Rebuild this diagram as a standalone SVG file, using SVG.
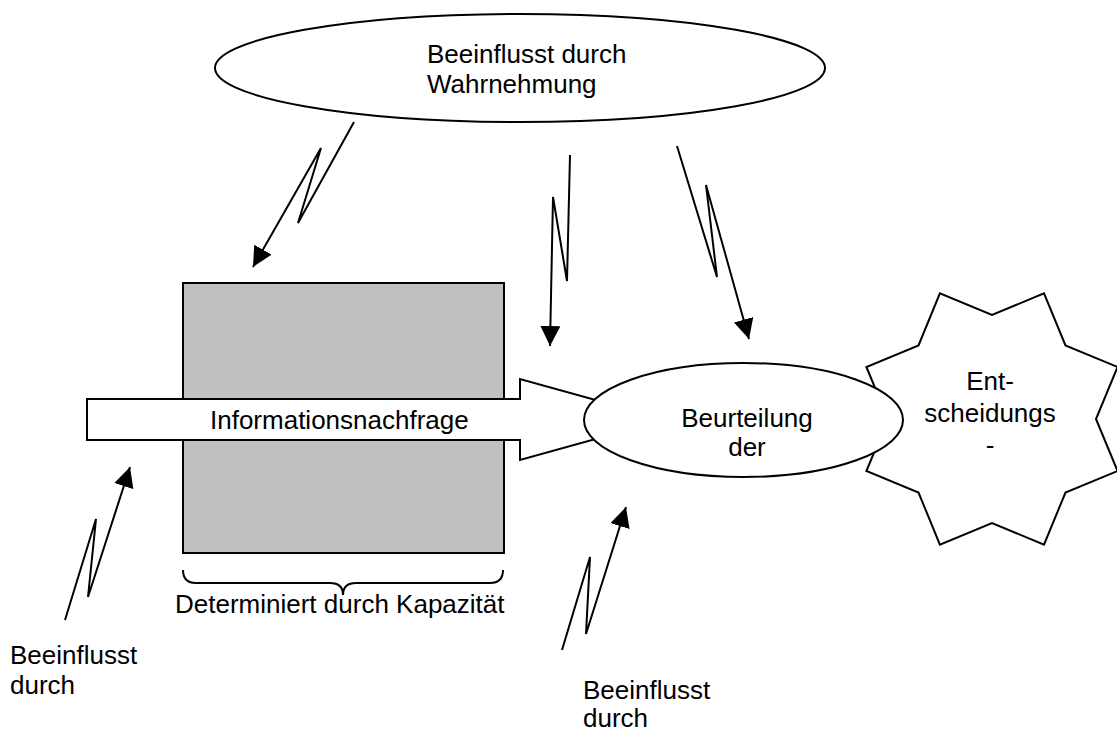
<svg xmlns="http://www.w3.org/2000/svg" width="1117" height="733" viewBox="0 0 1117 733">
  <style>
    .ln { fill: none; stroke: #000; stroke-width: 2; stroke-linejoin: miter; }
    .shape { stroke: #000; stroke-width: 2; }
    .txt { font-family: "Liberation Sans", Arial, sans-serif; font-size: 26px; fill: #000; }
    .mid { text-anchor: middle; }
  </style>
  <defs>
    <marker id="head" markerUnits="userSpaceOnUse" markerWidth="22" markerHeight="22" refX="20" refY="10" orient="auto">
      <path d="M0,0 L20,10 L0,20 z" fill="#000"/>
    </marker>
  </defs>

  <rect width="1117" height="733" fill="#fff"/>

  <!-- capacity block with brace -->
  <g id="capacity">
    <rect x="183" y="283" width="321" height="270" fill="#c0c0c0" class="shape"/>
    <path class="ln" d="M183,570 Q183,583 196,583 L330,583 Q343,583 343,595 Q343,583 356,583 L490,583 Q503,583 503,570"/>
    <text class="txt" x="175" y="613">Determiniert durch Kapazität</text>
  </g>

  <!-- information demand block arrow -->
  <g id="demand">
    <polygon points="87,399 520,399 520,379 666,419.5 520,460 520,440 87,440" fill="#fff" class="shape"/>
    <text class="txt" x="210" y="429">Informationsnachfrage</text>
  </g>

  <!-- decision star -->
  <g id="decision">
    <polygon fill="#fff" class="shape" points="1096,419 1117.6,471 1065.5,492.5 1044,544.6 992,523 939.9,544.6 918.5,492.5 866.4,471 888,419 866.4,367 918.5,345.5 939.9,293.4 992,315 1044,293.4 1065.5,345.5 1117.6,367"/>
    <text class="txt mid" x="990" y="390">Ent-</text>
    <text class="txt mid" x="990" y="422">scheidungs</text>
    <text class="txt mid" x="990" y="454">-</text>
  </g>

  <!-- assessment ellipse -->
  <g id="assessment">
    <ellipse cx="743.5" cy="420" rx="159.5" ry="57" fill="#fff" class="shape"/>
    <text class="txt mid" x="747" y="427">Beurteilung</text>
    <text class="txt mid" x="747" y="456">der</text>
  </g>

  <!-- perception ellipse -->
  <g id="perception">
    <ellipse cx="520" cy="68" rx="305" ry="54" fill="#fff" class="shape"/>
    <text class="txt" x="427" y="63">Beeinflusst durch</text>
    <text class="txt" x="427" y="93">Wahrnehmung</text>
  </g>

  <!-- free labels -->
  <g id="label-left">
    <text class="txt" x="10" y="664">Beeinflusst</text>
    <text class="txt" x="10" y="694">durch</text>
  </g>
  <g id="label-bottom">
    <text class="txt" x="583" y="699">Beeinflusst</text>
    <text class="txt" x="583" y="727">durch</text>
  </g>

  <!-- lightning connectors -->
  <g id="connectors">
    <polyline class="ln" marker-end="url(#head)" points="354,122 298,223 321,148 253,267"/>
    <polyline class="ln" marker-end="url(#head)" points="570,155 567,281 553,197 550,346"/>
    <polyline class="ln" marker-end="url(#head)" points="677,146 717,277 706,185 749,339"/>
    <polyline class="ln" marker-end="url(#head)" points="65,620 96,519 88,597 130,467"/>
    <polyline class="ln" marker-end="url(#head)" points="562,650 590,557 586,634 626,507"/>
  </g>
</svg>
